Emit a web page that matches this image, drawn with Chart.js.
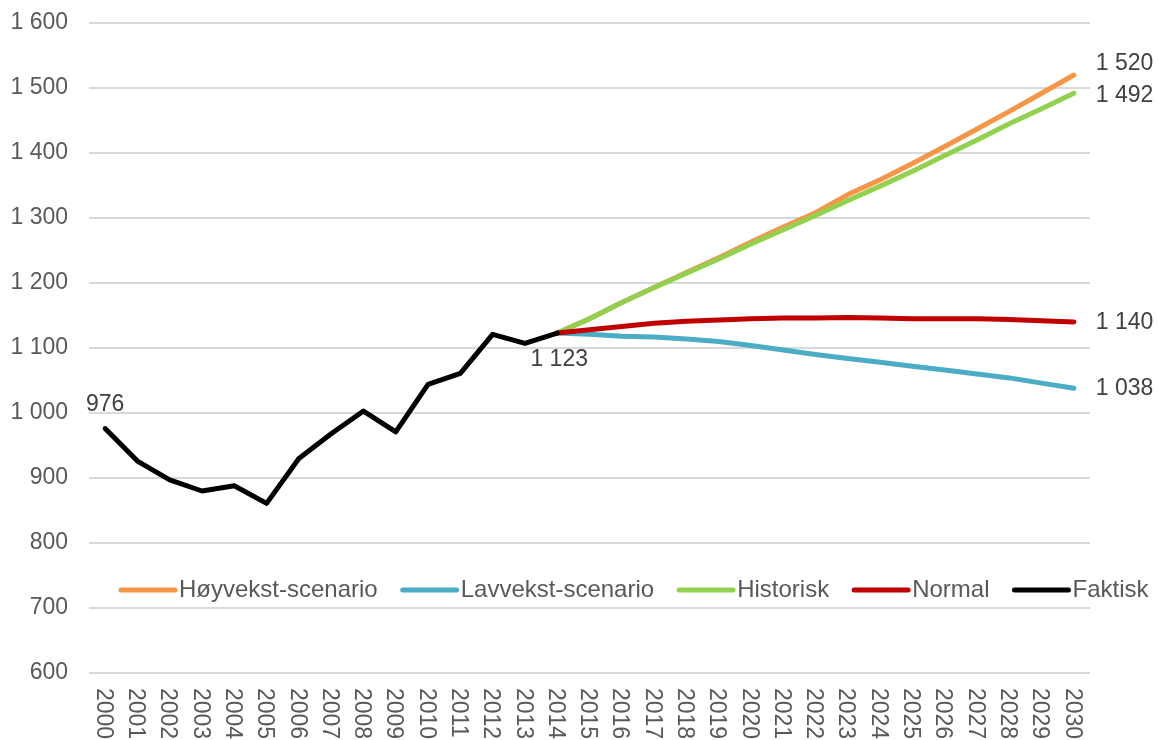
<!DOCTYPE html>
<html>
<head>
<meta charset="utf-8">
<script src="https://cdn.jsdelivr.net/npm/chart.js@4"></script>
<style>
  body { margin: 0; background: #fff; }
  #wrap { width: 1158px; height: 740px; }
</style>
</head>
<body>
<div id="wrap"><canvas id="chart1"></canvas></div>
<script>
  const years = [];
  for (let y = 2000; y <= 2030; y++) years.push(String(y));

  const gap = Array(14).fill(null);
  const faktisk = [976, 926, 897, 880, 888, 861, 930, 968, 1003, 971, 1044, 1061, 1121, 1107, 1123];
  const hoyvekst = gap.concat([1123, 1145, 1170, 1193, 1216, 1239, 1263, 1286, 1308, 1336, 1359, 1384, 1410, 1437, 1464, 1492, 1520]);
  const lavvekst = gap.concat([1123, 1121, 1118, 1117, 1114, 1110, 1104, 1097, 1090, 1084, 1078, 1072, 1066, 1060, 1054, 1046, 1038]);
  const historisk = gap.concat([1123, 1145, 1170, 1193, 1215, 1237, 1260, 1282, 1304, 1327, 1349, 1372, 1396, 1420, 1445, 1468, 1492]);
  const normal = gap.concat([1123, 1128, 1133, 1138, 1141, 1143, 1145, 1146, 1146, 1147, 1146, 1145, 1145, 1145, 1144, 1142, 1140]);
  const yTicks = [600, 700, 800, 900, 1000, 1100, 1200, 1300, 1400, 1500, 1600];

  const FONT = '"Liberation Sans", Arial, sans-serif';
  const TEXT = '#595959';

  function fmt(v) {
    if (v < 1000) return String(v);
    return Math.floor(v / 1000) + ' ' + String(v % 1000).padStart(3, '0');
  }

  // rotated year labels, reading top to bottom
  const xLabels = {
    id: 'xLabels',
    afterDraw(chart) {
      const ctx = chart.ctx, x = chart.scales.x, top = chart.chartArea.bottom + 15;
      ctx.save();
      ctx.font = '23px ' + FONT;
      ctx.fillStyle = TEXT;
      ctx.textAlign = 'left';
      ctx.textBaseline = 'middle';
      years.forEach((lab, i) => {
        ctx.save();
        ctx.translate(x.getPixelForTick(i) - 2, top);
        ctx.rotate(Math.PI / 2);
        ctx.fillText(lab, 0, 0);
        ctx.restore();
      });
      ctx.restore();
    }
  };

  // legend drawn inside the plot
  const insideLegend = {
    id: 'insideLegend',
    afterDraw(chart) {
      const ctx = chart.ctx;
      let x = chart.chartArea.left + 32;
      const y = 590;
      ctx.save();
      ctx.font = '24px ' + FONT;
      ctx.textBaseline = 'middle';
      ctx.textAlign = 'left';
      ctx.lineCap = 'round';
      chart.data.datasets.forEach(ds => {
        ctx.strokeStyle = ds.borderColor;
        ctx.lineWidth = 5;
        ctx.beginPath();
        ctx.moveTo(x, y);
        ctx.lineTo(x + 54, y);
        ctx.stroke();
        x += 58;
        ctx.fillStyle = TEXT;
        ctx.fillText(ds.label, x, y);
        x += ctx.measureText(ds.label).width + 25;
      });
      ctx.restore();
    }
  };

  // value labels
  const valueLabels = {
    id: 'valueLabels',
    afterDatasetsDraw(chart) {
      const ctx = chart.ctx;
      const marks = [
        { ds: 4, i: 0, dx: 0, dy: -24, align: 'center' },
        { ds: 4, i: 14, dx: 2, dy: 27, align: 'center' },
        { ds: 0, i: 30, dx: 22, dy: -11, align: 'left' },
        { ds: 2, i: 30, dx: 22, dy: 2, align: 'left' },
        { ds: 3, i: 30, dx: 22, dy: 1, align: 'left' },
        { ds: 1, i: 30, dx: 22, dy: 0, align: 'left' }
      ];
      ctx.save();
      ctx.font = '23px ' + FONT;
      ctx.fillStyle = '#404040';
      ctx.textBaseline = 'middle';
      marks.forEach(m => {
        const pt = chart.getDatasetMeta(m.ds).data[m.i];
        const v = chart.data.datasets[m.ds].data[m.i];
        ctx.textAlign = m.align;
        ctx.fillText(fmt(v), pt.x + m.dx, pt.y + m.dy);
      });
      ctx.restore();
    }
  };

  function line(label, data, color, order) {
    return {
      label: label,
      data: data,
      borderColor: color,
      backgroundColor: color,
      borderWidth: 5,
      borderCapStyle: 'round',
      borderJoinStyle: 'round',
      pointRadius: 0,
      tension: 0,
      spanGaps: false,
      order: order
    };
  }

  const ctx1 = document.getElementById('chart1').getContext('2d');
  const chart1 = new Chart(ctx1, {
    type: 'line',
    data: {
      labels: years,
      datasets: [
        line('Høyvekst-scenario', hoyvekst, '#F79646', 5),
        line('Lavvekst-scenario', lavvekst, '#4BACC6', 4),
        line('Historisk', historisk, '#92D050', 3),
        line('Normal', normal, '#C00000', 2),
        line('Faktisk', faktisk, '#000000', 1)
      ]
    },
    options: {
      responsive: true,
      maintainAspectRatio: false,
      animation: false,
      layout: { padding: { left: 8, right: 68, top: 0, bottom: 59 } },
      plugins: { legend: { display: false }, tooltip: { enabled: false } },
      scales: {
        x: {
          offset: true,
          grid: { display: false },
          border: { display: false },
          ticks: { display: false }
        },
        y: {
          min: 600,
          max: 1600,
          afterBuildTicks(axis) { axis.ticks = yTicks.map(v => ({ value: v })); },
          afterFit(axis) { axis.width = 81; axis.paddingTop = 23; },
          grid: { color: '#d9d9d9', lineWidth: 2, drawTicks: false },
          border: { display: false },
          ticks: {
            padding: 21,
            color: TEXT,
            font: { family: FONT, size: 23 },
            callback: v => fmt(v)
          }
        }
      }
    },
    plugins: [xLabels, insideLegend, valueLabels]
  });
</script>
</body>
</html>
